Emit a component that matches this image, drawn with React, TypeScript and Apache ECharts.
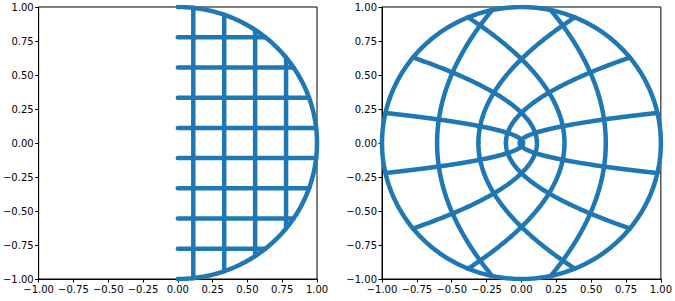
import React, { useEffect, useRef } from "react";
import * as echarts from "echarts";

// Grid lines drawn on the left (half-disk) panel
const VERTICAL_X = [1 / 9, 3 / 9, 5 / 9, 7 / 9];
const HORIZONTAL_Y = [-7 / 9, -5 / 9, -3 / 9, -1 / 9, 1 / 9, 3 / 9, 5 / 9, 7 / 9];
// Axis tick labels
const TICKS = [-1, -0.75, -0.5, -0.25, 0, 0.25, 0.5, 0.75, 1];
const SAMPLES = 240;

const COLOR = "#1f77b4";

type Pt = [number, number];

function sampleLine(a: Pt, b: Pt): Pt[] {
  const out: Pt[] = [];
  for (let i = 0; i <= SAMPLES; i++) {
    const t = i / SAMPLES;
    out.push([a[0] + (b[0] - a[0]) * t, a[1] + (b[1] - a[1]) * t]);
  }
  return out;
}

function sampleArc(): Pt[] {
  const out: Pt[] = [];
  for (let i = 0; i <= SAMPLES; i++) {
    const t = -Math.PI / 2 + (Math.PI * i) / SAMPLES;
    out.push([Math.cos(t), Math.sin(t)]);
  }
  return out;
}

// complex square z -> z^2
const square = (p: Pt): Pt => [p[0] * p[0] - p[1] * p[1], 2 * p[0] * p[1]];

function buildLines(): Pt[][] {
  const lines: Pt[][] = [];
  VERTICAL_X.forEach((a) => {
    const h = Math.sqrt(1 - a * a);
    lines.push(sampleLine([a, -h], [a, h]));
  });
  HORIZONTAL_Y.forEach((b) => {
    const w = Math.sqrt(1 - b * b);
    lines.push(sampleLine([0, b], [w, b]));
  });
  lines.push(sampleArc());
  return lines;
}

const fmt = (v: number) => {
  const s = Math.abs(v).toFixed(2);
  return v < -1e-9 ? "\u2212" + s : s;
};

export default function App() {
  const ref = useRef<HTMLDivElement>(null);
  useEffect(() => {
    if (!ref.current) return;
    const chart = echarts.init(ref.current, undefined, { renderer: "svg" });
    const lines = buildLines();
    const axisCommon = {
      type: "value" as const,
      min: -1,
      max: 1,
      interval: 0.25,
      splitLine: { show: false },
      axisLine: { show: true, onZero: false, lineStyle: { color: "#000", width: 1 } },
      axisTick: { show: true, inside: false, length: 3.5, lineStyle: { color: "#000", width: 1 } },
      axisLabel: {
        show: true,
        margin: 5,
        color: "#000",
        fontSize: 10,
        fontFamily: "DejaVu Sans",
        formatter: (v: number) => fmt(v),
        showMinLabel: true,
        showMaxLabel: true,
      },
    };
    const grids = [
      { left: 38, top: 7, width: 279, height: 272 },
      { left: 382, top: 7, width: 279, height: 272 },
    ].map((g) => ({ ...g, show: true, borderColor: "#000", borderWidth: 1, backgroundColor: "transparent" }));

    const series: any[] = [];
    lines.forEach((pts) => {
      series.push({
        type: "line",
        xAxisIndex: 0,
        yAxisIndex: 0,
        data: pts,
        showSymbol: false,
        clip: true,
        silent: true,
        lineStyle: { color: COLOR, width: 4.5, cap: "round", join: "round" },
      });
      series.push({
        type: "line",
        xAxisIndex: 1,
        yAxisIndex: 1,
        data: pts.map(square),
        showSymbol: false,
        clip: true,
        silent: true,
        lineStyle: { color: COLOR, width: 4.5, cap: "round", join: "round" },
      });
    });

    chart.setOption({
      animation: false,
      grid: grids,
      xAxis: [0, 1].map((i) => ({ ...axisCommon, gridIndex: i, position: "bottom" })),
      yAxis: [0, 1].map((i) => ({ ...axisCommon, gridIndex: i, position: "left" })),
      series,
    });
    void TICKS;
    return () => chart.dispose();
  }, []);
  return (
    <div
      ref={ref}
      style={{ position: "fixed", left: 0, top: 0, width: 675, height: 301, background: "#fff" }}
    />
  );
}
